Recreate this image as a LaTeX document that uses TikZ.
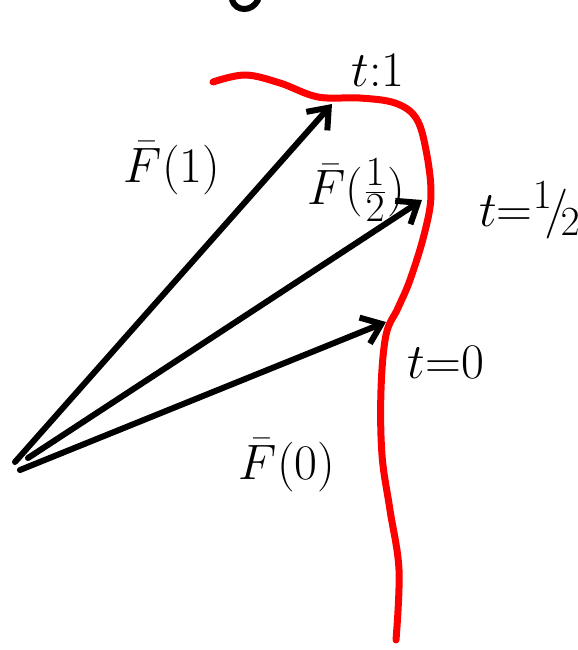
\documentclass[tikz,border=0pt]{standalone}
\usetikzlibrary{arrows.meta}
\tikzset{
  vec/.style={line width=3pt,line cap=round,-{Straight Barb[length=9pt,width=14pt,line width=3pt]}},
  lbl/.style={font=\fontsize{32}{38}\selectfont}
}
\begin{document}
\begin{tikzpicture}[x=0.5pt,y=-0.5pt]
  \useasboundingbox (0,0) rectangle (578,650);
  \draw[red,line width=3.5pt,line cap=round] plot[smooth,tension=0.6] coordinates {
    (213,82) (245,75) (280,83) (318,97) (360,98) (395,103) (416,118)
    (426,150) (431,195) (424,235) (410,280) (398,308)
    (386,335) (381,390) (382,455) (390,510) (399,570) (396,640)};
  \coordinate (O1) at (15,462);
  \coordinate (O2) at (28,458);
  \coordinate (O3) at (20,470);
  \coordinate (P1) at (332,104);
  \coordinate (Ph) at (422,200);
  \coordinate (P0) at (386,322);
  \draw[vec] (O1) -- (P1);
  \draw[vec] (O2) -- (Ph);
  \draw[vec] (O3) -- (P0);
  \draw[line width=3pt,line cap=round] (232,0) .. controls (236,12) and (252,12) .. (258,0);
  \node[lbl] (t1) at (378,70) {$t{:}1$};
  \node[lbl,font=\fontsize{28}{34}\selectfont] (th) at (530,210) {$t{=}{}^1\!/\!_2$};
  \node[lbl] (t0) at (446,362) {$t{=}0$};
  \node[lbl] (F1) at (172,168) {$\bar F(1)$};
  \node[lbl] (Fh) at (356,190) {$\bar F(\frac12)$};
  \node[lbl] (F0) at (287,465) {$\bar F(0)$};
\end{tikzpicture}
\end{document}
